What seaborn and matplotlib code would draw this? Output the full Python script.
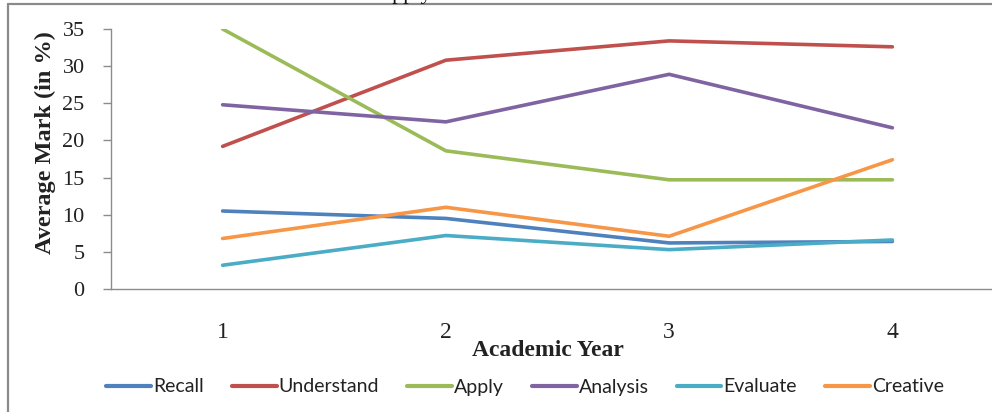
import matplotlib
matplotlib.use("Agg")
import matplotlib.pyplot as plt
from matplotlib.lines import Line2D
import pandas as pd
import seaborn as sns

# Average mark (%) per cognitive level across academic years
years = [1, 2, 3, 4]
recall = [10.5, 9.5, 6.2, 6.4]
understand = [19.2, 30.8, 33.4, 32.6]
apply_ = [35.0, 18.6, 14.7, 14.7]
analysis = [24.8, 22.5, 28.9, 21.7]
evaluate = [3.2, 7.2, 5.3, 6.6]
creative = [6.8, 11.0, 7.1, 17.4]

levels = ["Recall", "Understand", "Apply", "Analysis", "Evaluate", "Creative"]
colors = ["#4F81BD", "#C0504D", "#9BBB59", "#8064A2", "#4BACC6", "#F79646"]
y_ticks = [0, 5, 10, 15, 20, 25, 30, 35]

series = [recall, understand, apply_, analysis, evaluate, creative]
df = pd.DataFrame(
    [(y, lvl, v) for lvl, vals in zip(levels, series) for y, v in zip(years, vals)],
    columns=["Year", "Level", "Mark"],
)

sns.set_theme(style="white")
W, H = 992, 412
fig = plt.figure(figsize=(W / 100, H / 100), dpi=100)
fig.patch.set_facecolor("white")

# plot area (extends past the right edge like the cropped chart)
left, right, top, bottom = 111, 1004, 29, 289
ax = fig.add_axes([left / W, 1 - bottom / H, (right - left) / W, (bottom - top) / H])

sns.lineplot(data=df, x="Year", y="Mark", hue="Level", hue_order=levels,
             palette=colors, linewidth=2.6, ax=ax, legend=False, sort=False)

serif = ["Liberation Serif", "DejaVu Serif"]
ax.set_xlim(0.5, 4.5)
ax.set_ylim(0, 35)
ax.set_yticks(y_ticks)
ax.set_yticklabels([str(t) for t in y_ticks], fontfamily=serif, fontsize=16, color="#222222")

# category boundaries get tick marks, the labels sit at the centres
ax.set_xticks([0.5, 1.5, 2.5, 3.5, 4.5])
ax.set_xticklabels([])
ax.set_xticks(years, minor=True)
ax.set_xticklabels([str(y) for y in years], minor=True, fontfamily=serif,
                   fontsize=17, color="#222222")
ax.tick_params(axis="x", which="major", direction="out", length=6, width=1, color="#8c8c8c")
ax.tick_params(axis="x", which="minor", length=0, pad=24)
ax.tick_params(axis="y", direction="out", length=6, width=1, color="#8c8c8c", pad=13, left=True)

for s in ["top", "right"]:
    ax.spines[s].set_visible(False)
for s in ["left", "bottom"]:
    ax.spines[s].set_color("#8c8c8c")
    ax.spines[s].set_linewidth(1.0)
ax.grid(False)
ax.set_xlabel("")
ax.set_ylabel("")

fig.text(45 / W, 1 - 143 / H, "Average Mark (in %)", rotation=90, ha="center", va="center",
         fontfamily=serif, fontweight="bold", fontsize=17.5, color="#222222")
fig.text(548 / W, 1 - 350 / H, "Academic Year", ha="center", va="center",
         fontfamily=serif, fontweight="bold", fontsize=17, color="#222222")

# partially visible caption above the chart frame
fig.text(405 / W, 1 + 1 / H, "Apply", ha="center", va="baseline",
         fontfamily=serif, fontsize=16, color="#111111")

handles = [Line2D([0], [0], color=c, lw=3) for c in colors]
fig.legend(handles, levels, loc="center", bbox_to_anchor=(525 / W, 1 - 387 / H), ncol=6,
           frameon=False, handlelength=2.3, handletextpad=0.1, columnspacing=1.45,
           prop={"family": ["Lato", "DejaVu Sans"], "size": 14}, labelcolor="#222222")

# gray frame around the chart (top and left edges visible)
frame_kw = dict(color="#8a8a8a", lw=1.6, transform=fig.transFigure)
fig.add_artist(Line2D([8 / W, 8 / W], [0, 1 - 4 / H], **frame_kw))
fig.add_artist(Line2D([8 / W, 1], [1 - 4 / H, 1 - 4 / H], **frame_kw))

fig.savefig("out.png", dpi=100)
